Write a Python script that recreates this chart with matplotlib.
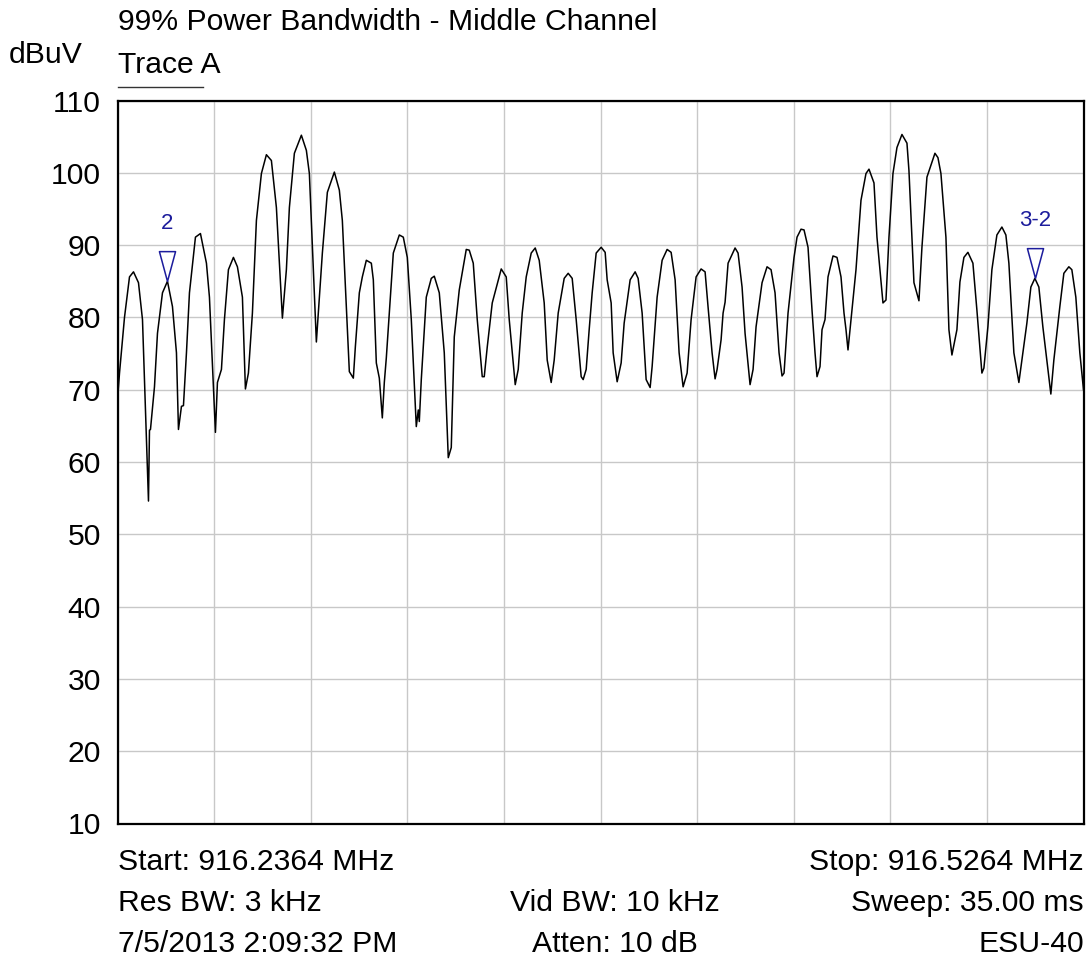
import matplotlib
matplotlib.use("Agg")
import matplotlib.pyplot as plt
from matplotlib.path import Path
from matplotlib.markers import MarkerStyle

plt.rcParams['font.family'] = ['Liberation Sans', 'DejaVu Sans']

# ---- data ----
start_mhz = 916.2364
stop_mhz = 916.5264

# trace vertices: offset from start frequency (kHz) and level (dBuV)
offset_khz = [
    0.0, 0.6, 2.1, 3.6, 4.8, 6.3, 7.5, 9.3, 9.6, 9.9, 11.1, 12.0, 13.5, 15.0, 16.5, 17.7,
    18.3, 19.2, 19.8, 20.7, 21.6, 23.4, 24.9, 26.7, 27.6, 29.4, 30.0, 31.2, 32.1, 33.3,
    34.8, 36.0, 37.5, 38.4, 39.3, 40.5, 41.7, 43.2, 44.7, 46.2, 47.7, 49.5, 50.7, 51.6,
    53.1, 55.2, 56.7, 57.6, 59.7, 61.5, 63.0, 65.1, 66.6, 67.5, 69.6, 70.8, 71.4, 72.6,
    73.5, 74.7, 76.2, 76.8, 77.7, 78.6, 79.5, 80.1, 80.7, 81.6, 82.8, 84.6, 85.8, 87.0,
    88.2, 89.7, 90.3, 90.6, 91.2, 92.7, 94.2, 95.1, 96.6, 98.1, 99.3, 100.2, 101.1, 102.6,
    104.7, 105.6, 106.8, 108.0, 109.5, 110.1, 111.0, 112.5, 115.2, 116.7, 117.6, 119.4,
    120.3, 121.5, 122.7, 124.2, 125.4, 126.6, 128.1, 129.0, 130.2, 131.1, 132.3, 134.1,
    135.3, 136.5, 137.7, 139.2, 139.8, 140.7, 141.6, 142.5, 143.7, 145.2, 146.4, 147.0,
    148.2, 148.8, 150.0, 151.2, 152.1, 153.9, 155.4, 156.3, 157.5, 158.7, 159.9, 160.5,
    162.0, 163.5, 165.0, 166.2, 167.4, 168.6, 169.8, 171.0, 172.2, 173.7, 175.2, 176.4,
    177.3, 178.5, 179.4, 180.0, 181.2, 181.8, 182.4, 183.3, 185.4, 186.3, 187.5, 188.4,
    189.9, 190.8, 191.7, 193.5, 195.0, 196.2, 197.4, 198.6, 199.5, 200.1, 201.3, 203.1,
    204.0, 205.2, 206.1, 207.3, 208.5, 209.4, 210.0, 210.9, 211.5, 212.4, 213.3, 214.8,
    216.0, 217.2, 218.1, 218.7, 219.3, 220.2, 221.7, 223.2, 224.7, 225.6, 227.1, 228.0,
    229.8, 230.7, 231.6, 232.8, 234.0, 235.5, 237.0, 237.6, 239.1, 240.6, 241.5, 243.0,
    245.4, 246.3, 247.2, 248.7, 249.6, 250.5, 252.0, 252.9, 254.1, 255.3, 256.8, 258.0,
    259.5, 260.1, 261.3, 262.5, 264.0, 265.5, 266.7, 267.6, 269.1, 270.6, 271.5, 273.0,
    274.2, 275.4, 276.6, 277.8, 279.0, 280.2, 281.1, 282.0, 282.9, 284.1, 285.6, 286.5,
    287.7, 288.9, 290.0,
]
level_dbuv = [
    68.6, 72.3, 80.0, 85.6, 86.3, 84.8, 79.7, 54.6, 64.4, 64.5, 70.4, 77.8, 83.4, 85.0, 81.5, 75.1,
    64.5, 67.7, 67.8, 75.1, 83.4, 91.1, 91.6, 87.5, 82.8, 64.1, 71.0, 72.8, 79.7, 86.6,
    88.3, 87.0, 82.8, 70.1, 72.3, 80.6, 93.4, 99.9, 102.5, 101.7, 95.2, 79.9, 86.6, 95.2,
    102.7, 105.2, 103.1, 99.9, 76.6, 88.9, 97.3, 100.1, 97.6, 93.4, 72.5, 71.6, 75.9, 83.4,
    85.6, 87.9, 87.5, 85.2, 73.7, 71.6, 66.1, 71.0, 74.4, 80.6, 88.9, 91.4, 91.1, 88.3,
    79.7, 64.9, 67.2, 65.6, 71.4, 82.8, 85.4, 85.7, 83.4, 75.1, 60.6, 62.0, 77.3, 83.8,
    89.4, 89.3, 87.5, 79.7, 71.8, 71.8, 75.9, 82.0, 86.7, 85.6, 79.7, 70.7,
    72.8, 80.6, 85.6, 88.9, 89.6, 87.9, 82.0, 74.1, 71.0, 74.1, 80.6, 85.4,
    86.1, 85.4, 79.7, 71.8, 71.4, 72.8, 78.3, 83.4, 88.9, 89.7, 89.0, 85.2,
    82.0, 75.1, 71.1, 73.7, 79.2, 85.2, 86.3, 85.4, 80.6, 71.4, 70.3, 73.2,
    82.8, 87.9, 89.4, 89.0, 85.2, 75.1, 70.4, 72.3, 79.7, 85.6, 86.7, 86.3,
    81.4, 75.1, 71.5, 72.8, 76.9, 80.6, 82.1, 87.5, 89.6, 88.9, 84.2, 77.8,
    70.7, 72.8, 78.7, 84.8, 87.0, 86.6, 83.4, 75.1, 71.9, 72.3, 80.6, 88.3,
    91.1, 92.2, 92.1, 89.7, 81.0, 75.1, 71.8, 73.2, 78.3, 79.7, 85.6, 88.5,
    88.3, 85.6, 80.6, 78.3, 75.5, 79.7, 86.6, 96.2, 99.9, 100.5, 98.6, 91.1,
    82.0, 82.4, 91.1, 99.9, 103.5, 105.3, 104.1, 100.3, 84.8, 82.3, 89.7, 99.4,
    102.7, 102.1, 99.9, 91.1, 78.3, 74.8, 78.3, 84.9, 88.3, 89.0, 87.5, 81.0,
    72.3, 73.0, 78.7, 86.6, 91.4, 92.5, 91.4, 87.5, 75.1, 71.0, 74.1, 79.2,
    84.2, 85.4, 84.2, 78.7, 74.1, 69.4, 74.1, 77.8, 81.5, 86.1, 87.0, 86.6,
    82.8, 75.1, 70.0,
]

marker_labels = ["2", "3-2"]
marker_offset_khz = [15.0, 275.4]
marker_level = [85.0, 85.4]

y_ticks = [10, 20, 30, 40, 50, 60, 70, 80, 90, 100, 110]
n_x_div = 10

title = "99% Power Bandwidth - Middle Channel"
unit_label = "dBuV"
trace_label = "Trace A"
info_left = ["Start: 916.2364 MHz", "Res BW: 3 kHz", "7/5/2013 2:09:32 PM"]
info_mid = ["", "Vid BW: 10 kHz", "Atten: 10 dB"]
info_right = ["Stop: 916.5264 MHz", "Sweep: 35.00 ms", "ESU-40"]

# ---- figure ----
FS = 21.7
W, H = 1086, 966
fig = plt.figure(figsize=(W / 100, H / 100), dpi=100)
ax_l, ax_r, ax_t, ax_b = 117.5, 1083.5, 100.5, 823.5
ax = fig.add_axes([ax_l / W, 1 - ax_b / H, (ax_r - ax_l) / W, (ax_b - ax_t) / H])

span_khz = (stop_mhz - start_mhz) * 1000
ax.set_xlim(0, span_khz)
ax.set_ylim(10, 110)
ax.set_xticks([span_khz * i / n_x_div for i in range(n_x_div + 1)])
ax.set_xticklabels([])
ax.set_yticks(y_ticks)
ax.set_yticklabels([str(v) for v in y_ticks])
ax.tick_params(axis='both', length=0)
ax.tick_params(axis='y', pad=12, labelsize=FS)
ax.grid(True, color='#c8c8c8', linewidth=1.0)
ax.set_axisbelow(True)
for s in ax.spines.values():
    s.set_linewidth(1.6)
    s.set_color('black')

ax.plot(offset_khz, level_dbuv, color='black', linewidth=1.1,
        solid_joinstyle='round', antialiased=True)

# markers: open downward triangles with apex on the trace
tri = Path([(-0.27, 1.0), (0.27, 1.0), (0.0, 0.0), (-0.27, 1.0)],
           [Path.MOVETO, Path.LINETO, Path.LINETO, Path.CLOSEPOLY])
mk_color = '#1c1c9c'
ax.plot(marker_offset_khz, marker_level, linestyle='none', marker=MarkerStyle(tri),
        markersize=43, markerfacecolor='none', markeredgecolor=mk_color,
        markeredgewidth=1.1, clip_on=False)
for lab, x, y in zip(marker_labels, marker_offset_khz, marker_level):
    ax.annotate(lab, (x, y), xytext=(0, 34), textcoords='offset points',
                ha='center', va='bottom', color=mk_color, fontsize=16,
                family=['Liberation Sans Narrow', 'Liberation Sans'])

# header texts
def ftext(x, y, s, **kw):
    fig.text(x / W, 1 - y / H, s, va='baseline', **kw)

ftext(118, 30, title, fontsize=FS, ha='left')
ftext(9, 63, unit_label, fontsize=FS, ha='left')
ftext(118, 73, trace_label, fontsize=FS, ha='left')
fig.add_artist(plt.Line2D([118 / W, 203 / W], [1 - 87 / H, 1 - 87 / H],
                          color='#333333', linewidth=1.0))

rows_y = [870, 911, 952]
for yb, l, m, r in zip(rows_y, info_left, info_mid, info_right):
    ftext(118, yb, l, fontsize=FS, ha='left')
    if m:
        ftext(615, yb, m, fontsize=FS, ha='center')
    ftext(1084, yb, r, fontsize=FS, ha='right')

fig.savefig("out.png", dpi=100)
